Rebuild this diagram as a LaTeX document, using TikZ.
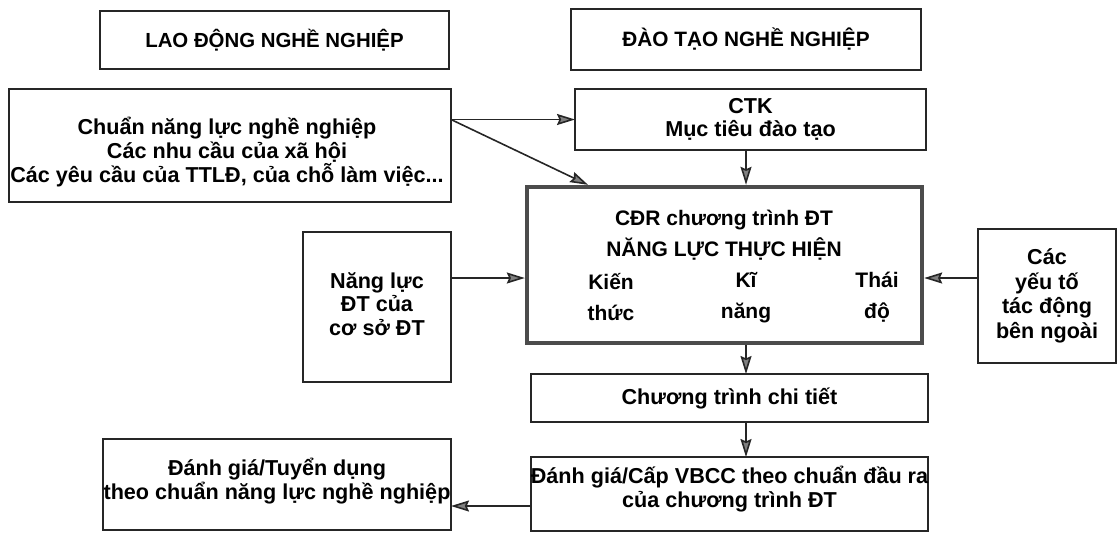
\documentclass[tikz,border=0pt]{standalone}
\usepackage{fontspec}
\setmainfont{Liberation Sans}
\usetikzlibrary{arrows.meta,calc}
\tikzset{
  box/.style={draw=black!85, line width=0.6pt, rectangle, inner sep=0pt, outer sep=0pt,
    align=center, font=\fontsize{10.8}{11.8}\selectfont\bfseries},
  thickbox/.style={draw=black!70, line width=2.2pt, rectangle, inner sep=0pt, outer sep=1.1pt},
  frame/.style={draw=black!85, line width=0.6pt, rectangle, inner sep=0pt, outer sep=0pt},
  txt/.style={inner sep=0pt, align=center, font=\fontsize{10.8}{11.8}\selectfont\bfseries},
  ctxt/.style={inner sep=0pt, align=center, font=\fontsize{10.5}{15.5}\selectfont\bfseries},
  arr/.style={draw=black!85, line width=0.8pt,
    -{Stealth[length=9pt,width=5.5pt,inset=1.2pt,fill=black!50]}}
}
\begin{document}
\begin{tikzpicture}[x=0.5pt,y=-0.5pt]
\useasboundingbox (0,0) rectangle (1118,532);

% header boxes
\node[box, font=\fontsize{10.2}{12}\selectfont\bfseries, minimum width=174.5pt, minimum height=29pt] (lao) at (274.5,40) {LAO ĐỘNG NGHỀ NGHIỆP};
\node[box, font=\fontsize{10.4}{12}\selectfont\bfseries, minimum width=175pt, minimum height=30.5pt] (dao) at (746,39.5) {ĐÀO TẠO NGHỀ NGHIỆP};

% left requirements box
\node[frame, minimum width=221pt, minimum height=56.5pt] (req) at (230,145.5) {};
\node[txt] (reqt) at (227,152)
  {Chuẩn năng lực nghề nghiệp\\Các nhu cầu của xã hội\\Các yêu cầu của TTLĐ, của chỗ làm việc...};

% CTK
\node[box, minimum width=175.5pt, minimum height=30.5pt] (ctk) at (750.5,119.5) {CTK\\Mục tiêu đào tạo};

% CDR thick box
\node[thickbox, minimum width=197.5pt, minimum height=78pt] (cdr) at (724.5,265) {};
\node[ctxt] (cdrt) at (724,235.5) {CĐR chương trình ĐT\\NĂNG LỰC THỰC HIỆN};
\node[ctxt] (kt) at (611,297.5) {Kiến\\thức};
\node[ctxt] (kn) at (746,297.5) {Kĩ\\năng};
\node[ctxt] (td) at (877,297.5) {Thái\\độ};

% side boxes
\node[frame, minimum width=74pt, minimum height=75pt] (nl) at (377,307) {};
\node[txt] (nlt) at (377,304) {Năng lực\\ĐT của\\cơ sở ĐT};
\node[box, minimum width=69pt, minimum height=67pt, font=\fontsize{10.8}{12.25}\selectfont\bfseries] (yt) at (1047,296)
  {Các\\yếu tố\\tác động\\bên ngoài};

% lower boxes
\node[box, minimum width=198.5pt, minimum height=24pt] (ctct) at (729.5,398) {Chương trình chi tiết};
\node[frame, minimum width=198.5pt, minimum height=37pt] (dgc) at (729.5,494) {};
\node[txt] (dgct) at (729.5,489) {Đánh giá/Cấp VBCC theo chuẩn đầu ra\\của chương trình ĐT};
\node[frame, minimum width=174pt, minimum height=45.5pt] (tdg) at (277,484.5) {};
\node[txt] (tdgt) at (277,481) {Đánh giá/Tuyển dụng\\theo chuẩn năng lực nghề nghiệp};

% helper coordinates
\coordinate (ax) at (746,0);
\coordinate (ay) at (0,278);
\coordinate (by) at (0,506);
\coordinate (dg) at (588,0);

% connectors
\draw[arr] (req.east |- ctk.west) -- (ctk.west);
\draw[arr] (req.east |- ctk.west) -- (cdr.north -| dg);
\draw[arr] (ctk.south -| ax) -- (cdr.north -| ax);
\draw[arr] (nl.east |- ay) -- (cdr.west |- ay);
\draw[arr] (yt.west |- ay) -- (cdr.east |- ay);
\draw[arr] (cdr.south -| ax) -- (ctct.north -| ax);
\draw[arr] (ctct.south -| ax) -- (dgc.north -| ax);
\draw[arr] (dgc.west |- by) -- (tdg.east |- by);
\end{tikzpicture}
\end{document}
